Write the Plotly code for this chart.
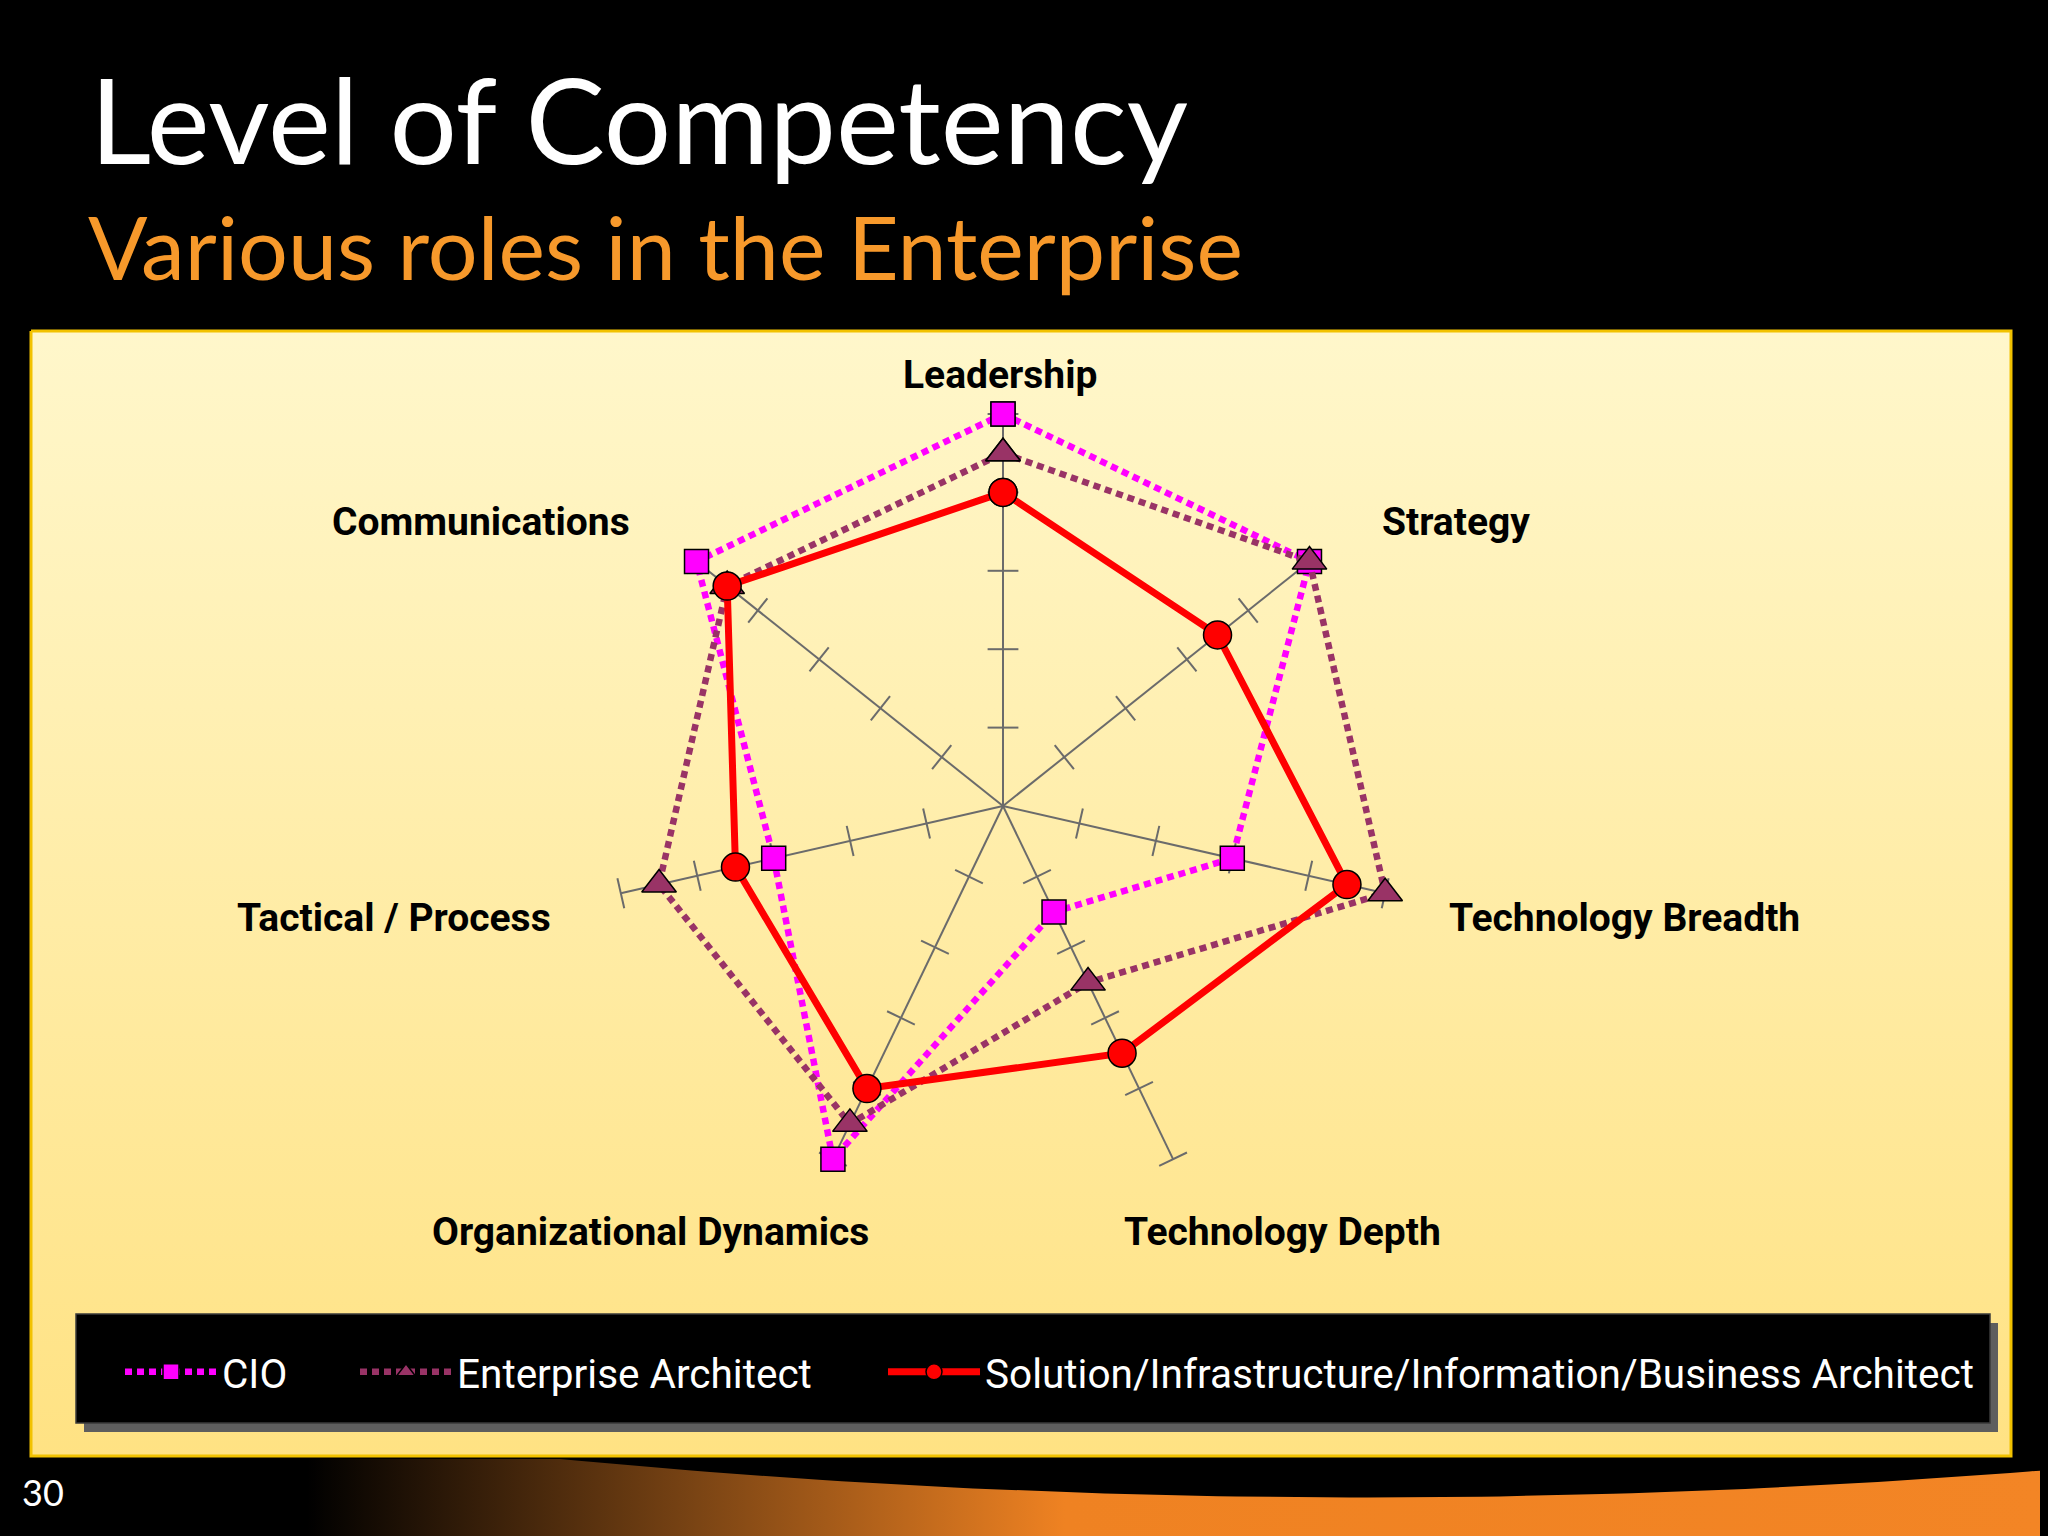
import numpy as np
import plotly.graph_objects as go

# ---------------- data ----------------
categories = ["Leadership", "Strategy", "Technology Breadth", "Technology Depth",
              "Organizational Dynamics", "Tactical / Process", "Communications"]
cio = [5, 5, 3, 1.5, 5, 3, 5]
enterprise_architect = [4.5, 5, 5, 2.5, 4.5, 4.5, 4.5]
solution_architect = [4, 3.5, 4.5, 3.5, 4, 3.5, 4.5]
series_names = ["CIO", "Enterprise Architect",
                "Solution/Infrastructure/Information/Business Architect"]
axis_ticks = [1, 2, 3, 4, 5]
title_text = "Level of Competency"
subtitle_text = "Various roles in the Enterprise"
page_number = "30"

# ---------------- layout helpers (page pixel coordinates) ----------------
PAGE_W, PAGE_H = 2048, 1536
OFF = 8                      # body margin of the html page
FW, FH = PAGE_W - OFF, PAGE_H - OFF
CX, CY, R = 1003, 806, 392


def px(x):
    return (x - OFF) / FW


def py(y):
    return 1 - (y - OFF) / FH


LABEL_FONT = dict(family="Roboto, Liberation Sans, Arial", size=39, color="black")
LEGEND_FONT = dict(family="Roboto, Liberation Sans, Arial", size=40.5, color="white")

# label anchor positions (page pixels): x, y, xanchor
label_pos = {
    "Leadership": (1000, 375, "center"),
    "Strategy": (1380, 522, "left"),
    "Technology Breadth": (1447, 918, "left"),
    "Technology Depth": (1122, 1232, "left"),
    "Organizational Dynamics": (871, 1232, "right"),
    "Tactical / Process": (553, 918, "right"),
    "Communications": (632, 522, "right"),
}

fig = go.Figure()

# ---------------- background (cartesian, page pixel coordinates) ----------------
panel = dict(x0=31, y0=331, x1=2011, y1=1456)
fig.add_trace(go.Scatter(
    x=[panel["x0"], panel["x1"], panel["x1"], panel["x0"], panel["x0"]],
    y=[panel["y0"], panel["y0"], panel["y1"], panel["y1"], panel["y0"]],
    mode="lines", fill="toself",
    fillgradient=dict(type="vertical", start=panel["y0"], stop=panel["y1"],
                      colorscale=[[0, "#FFF7CB"], [1, "#FFE283"]]),
    line=dict(color="#F2C200", width=3),
    hoverinfo="skip", showlegend=False, xaxis="x", yaxis="y"))

t = np.linspace(0, 1, 80)
p0, pc, p2 = (560, 1459), (1300, 1530), (2048, 1470)
bx = (1 - t) ** 2 * p0[0] + 2 * (1 - t) * t * pc[0] + t ** 2 * p2[0]
by = (1 - t) ** 2 * p0[1] + 2 * (1 - t) * t * pc[1] + t ** 2 * p2[1]
sx = np.concatenate([[0], bx, [2048, 2048, 0, 0]])
sy = np.concatenate([[1459], by, [1470, 1536, 1536, 1459]])
fig.add_trace(go.Scatter(
    x=sx, y=sy, mode="lines", fill="toself",
    fillgradient=dict(type="horizontal", start=0, stop=2048,
                      colorscale=[[0, "#000000"], [0.15, "#000000"], [0.34, "#7A4414"],
                                  [0.52, "#EF8222"], [1, "#F38525"]]),
    line=dict(width=0, color="rgba(0,0,0,0)"),
    hoverinfo="skip", showlegend=False, xaxis="x", yaxis="y"))

# ---------------- radar ----------------
n = len(categories)
tick_r = [r for c in categories for r in axis_ticks]
tick_theta = [c for c in categories for r in axis_ticks]
tick_angle = [i * 360 / n for i, c in enumerate(categories) for r in axis_ticks]
fig.add_trace(go.Scatterpolar(
    r=tick_r, theta=tick_theta, mode="markers",
    marker=dict(symbol="line-ew", size=22, angle=tick_angle, color="#6B6B6B",
                line=dict(color="#6B6B6B", width=2)),
    hoverinfo="skip", showlegend=False, cliponaxis=False))


def closed(v):
    return list(v) + [v[0]]


theta_closed = closed(categories)
fig.add_trace(go.Scatterpolar(
    r=closed(cio), theta=theta_closed, name=series_names[0], mode="lines+markers",
    line=dict(color="#FF00FF", width=6.5, dash="7px,5px"),
    marker=dict(symbol="square", size=24, color="#FF00FF",
                line=dict(color="black", width=1.5)),
    cliponaxis=False, legend="legend"))
fig.add_trace(go.Scatterpolar(
    r=closed(enterprise_architect), theta=theta_closed, name=series_names[1],
    mode="lines+markers",
    line=dict(color="#993366", width=6.5, dash="7px,5px"),
    marker=dict(symbol="triangle-up", size=30, color="#993366",
                line=dict(color="black", width=1.5)),
    cliponaxis=False, legend="legend2"))
fig.add_trace(go.Scatterpolar(
    r=closed(solution_architect), theta=theta_closed, name=series_names[2],
    mode="lines+markers",
    line=dict(color="#FF0000", width=7),
    marker=dict(symbol="circle", size=28, color="#FF0000",
                line=dict(color="black", width=1.5)),
    cliponaxis=False, legend="legend3"))

# ---------------- annotations ----------------
annotations = []
for c in categories:
    x, y, anc = label_pos[c]
    annotations.append(dict(text="<b>%s</b>" % c, x=px(x), y=py(y), xref="paper", yref="paper",
                            xanchor=anc, yanchor="middle", showarrow=False, font=LABEL_FONT))
annotations.append(dict(text=title_text, x=px(88), y=py(118), xref="paper", yref="paper",
                        xanchor="left", yanchor="middle", showarrow=False,
                        font=dict(family="Lato, Open Sans, sans-serif", size=119, color="white")))
annotations.append(dict(text=subtitle_text, x=px(86), y=py(246), xref="paper", yref="paper",
                        xanchor="left", yanchor="middle", showarrow=False,
                        font=dict(family="Lato, Open Sans, sans-serif", size=88, color="#F7992B")))
annotations.append(dict(text=page_number, x=px(20), y=py(1492), xref="paper", yref="paper",
                        xanchor="left", yanchor="middle", showarrow=False,
                        font=dict(family="Lato, Open Sans, sans-serif", size=36, color="white")))

# legend box shapes
shapes = [
    dict(type="rect", xref="x", yref="y", x0=84, y0=1323, x1=1998, y1=1432,
         fillcolor="#5E5E5E", line=dict(width=0), layer="above"),
    dict(type="rect", xref="x", yref="y", x0=76, y0=1314, x1=1990, y1=1423,
         fillcolor="#000000", line=dict(width=1.5, color="#3A3A3A"), layer="above"),
]

legend_common = dict(orientation="h", bgcolor="rgba(0,0,0,0)", borderwidth=0,
                     font=LEGEND_FONT, itemwidth=92, yanchor="middle", xanchor="left",
                     itemclick=False, itemdoubleclick=False)

fig.update_layout(
    width=FW, height=FH, margin=dict(l=0, r=0, t=0, b=0, pad=0, autoexpand=False),
    paper_bgcolor="black", plot_bgcolor="rgba(0,0,0,0)",
    xaxis=dict(range=[OFF, PAGE_W], domain=[0, 1], visible=False, fixedrange=True),
    yaxis=dict(range=[PAGE_H, OFF], domain=[0, 1], visible=False, fixedrange=True),
    polar=dict(
        domain=dict(x=[px(CX - R), px(CX + R)], y=[py(CY + R), py(CY - R)]),
        bgcolor="rgba(0,0,0,0)",
        radialaxis=dict(range=[0, 5], visible=False, showgrid=False),
        angularaxis=dict(direction="clockwise", rotation=90, showgrid=True,
                         gridcolor="#6B6B6B", gridwidth=2, showline=False,
                         showticklabels=False, ticks="", categoryorder="array",
                         categoryarray=categories),
    ),
    legend=dict(x=px(120), y=py(1372), **legend_common),
    legend2=dict(x=px(355), y=py(1372), **legend_common),
    legend3=dict(x=px(883), y=py(1372), **legend_common),
    annotations=annotations,
    shapes=shapes,
    showlegend=True,
)

fig.write_html("out.html", post_script="document.body.style.background='black';")
